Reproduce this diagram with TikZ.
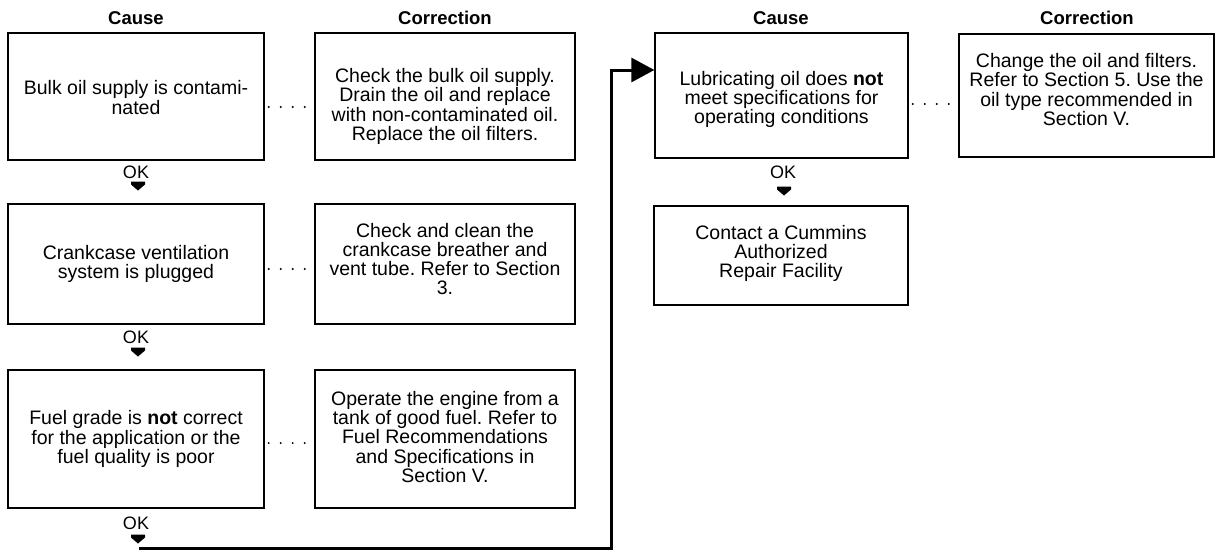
\documentclass[tikz,border=0pt]{standalone}
\usepackage{fontspec}
\setmainfont{Liberation Sans}
\usetikzlibrary{arrows.meta}
\frenchspacing
\begin{document}
\begin{tikzpicture}[x=1pt,y=-1pt,
  box/.style={draw, line width=1.3pt, inner sep=0pt},
  txt/.style={align=center, inner sep=0pt, font=\fontsize{19.5}{19.2}\selectfont},
  head/.style={font=\bfseries\fontsize{18.5}{18.5}\selectfont},
  oklabel/.style={font=\fontsize{18}{18}\selectfont},
  dots/.style={line width=2.2pt, dash pattern=on 0pt off 12pt, line cap=round,
    shorten <=4pt, shorten >=8.5pt},
  flow/.style={line width=3pt, -{Triangle[length=23pt,width=24pt]}},
  okarrow/.pic={\fill (-7,-4.5) -- (7,-4.5) -- (7,-1.5) -- (0,4.5) -- (-7,-1.5) -- cycle;}
]
\useasboundingbox (0,0) rectangle (1217,551);

% column headings
\node[head] (h1) at (136,18) {Cause};
\node[head] (h2) at (445,18) {Correction};
\node[head] (h3) at (781,18) {Cause};
\node[head] (h4) at (1087,18) {Correction};

% left column: cause and correction frames
\node[box, minimum width=256pt, minimum height=127pt] (c1) at (136,96.5) {};
\node[box, minimum width=260pt, minimum height=127pt] (k1) at (445,96.5) {};
\node[box, minimum width=256pt, minimum height=120pt] (c2) at (136,264) {};
\node[box, minimum width=260pt, minimum height=120pt] (k2) at (445,264) {};
\node[box, minimum width=256pt, minimum height=138pt] (c3) at (136,439) {};
\node[box, minimum width=260pt, minimum height=138pt] (k3) at (445,439) {};

% right column frames
\node[box, minimum width=253pt, minimum height=125pt] (c4) at (781.5,95.5) {};
\node[box, minimum width=255pt, minimum height=123pt] (k4) at (1086.5,95.5) {};
\node[box, minimum width=254pt, minimum height=99pt] (c5) at (781,255.5) {};

% frame texts
\node[txt] (c1t) at ([yshift=-1pt]c1.center) {Bulk oil supply is contami-\\nated};
\node[txt] (k1t) at ([yshift=-10pt]k1.center)
  {Check the bulk oil supply.\\Drain the oil and replace\\with non-contaminated oil.\\Replace the oil filters.};
\node[txt] (c2t) at (c2.center) {Crankcase ventilation\\system is plugged};
\node[txt] (k2t) at ([yshift=5pt]k2.center)
  {Check and clean the\\crankcase breather and\\vent tube. Refer to Section\\3.};
\node[txt] (c3t) at (c3.center)
  {Fuel grade is \textbf{not} correct\\for the application or the\\fuel quality is poor};
\node[txt] (k3t) at ([yshift=2pt]k3.center)
  {Operate the engine from a\\tank of good fuel. Refer to\\Fuel Recommendations\\and Specifications in\\Section V.};
\node[txt] (c4t) at ([yshift=-4pt]c4.center)
  {Lubricating oil does \textbf{not}\\meet specifications for\\operating conditions};
\node[txt] (k4t) at ([yshift=6pt]k4.center)
  {Change the oil and filters.\\Refer to Section 5. Use the\\oil type recommended in\\Section V.};
\node[txt] (c5t) at ([yshift=2pt]c5.center) {Contact a Cummins\\Authorized\\Repair Facility};

% cause-to-correction leaders
\draw[dots] (c1.east |- 0,107) -- (k1.west |- 0,107);
\draw[dots] (c2.east |- 0,269) -- (k2.west |- 0,269);
\draw[dots] (c3.east |- 0,443) -- (k3.west |- 0,443);
\draw[dots] (c4.east |- 0,104) -- (k4.west |- 0,104);

% OK labels with their pointers
\node[oklabel] (ok1) at (136,172) {OK};
\node[oklabel] (ok2) at (136,337) {OK};
\node[oklabel] (ok3) at (136,523) {OK};
\node[oklabel] (ok4) at (783,172) {OK};
\pic at (138,186) {okarrow};
\pic at (138,352) {okarrow};
\pic at (138,539) {okarrow};
\pic at (784,191) {okarrow};

% flow from the last left-hand check to the right column
\coordinate (start) at (139,548);
\coordinate (turn1) at (611,548);
\coordinate (turn2) at (611,70);
\draw[flow] (start) -- (turn1) -- (turn2) -- (c4.west |- turn2);
\end{tikzpicture}
\end{document}
